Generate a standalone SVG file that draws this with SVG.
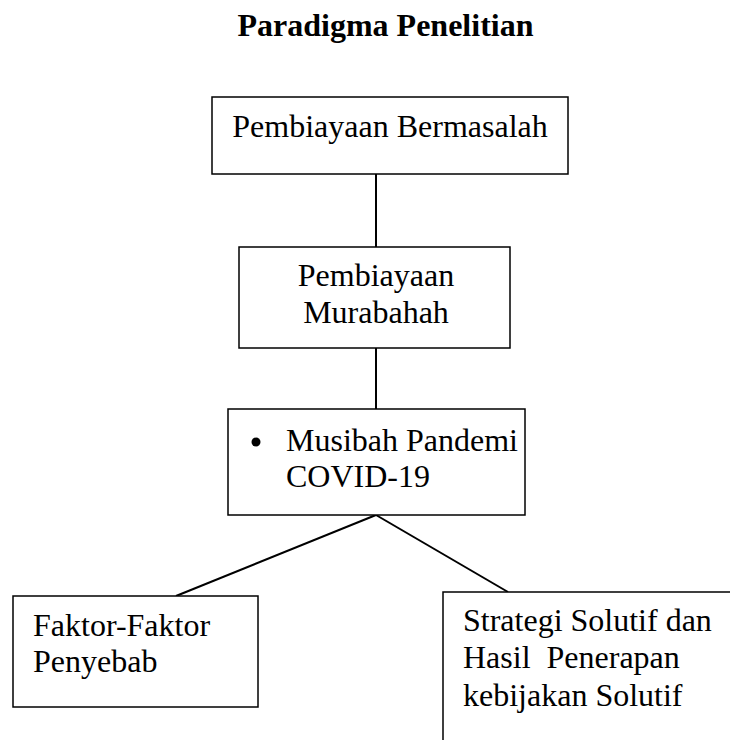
<svg xmlns="http://www.w3.org/2000/svg" width="730" height="740" viewBox="0 0 730 740">
<style>
.box{fill:#fff;stroke:#000;stroke-width:1.5}
.t{font-family:"Liberation Serif","Times New Roman",serif;font-size:32px;fill:#000}
.title{font-family:"Liberation Serif","Times New Roman",serif;font-size:32px;font-weight:bold;fill:#000}
.conn line{stroke:#000;stroke-width:2}
</style>
<rect width="730" height="740" fill="#fff"/>
<text class="title" x="385.5" y="36" text-anchor="middle">Paradigma Penelitian</text>
<g id="connectors" class="conn">
<line x1="376" y1="174" x2="376" y2="247"/>
<line x1="376" y1="348" x2="376" y2="409"/>
<line x1="376" y1="515" x2="176" y2="596"/>
<line x1="376" y1="515" x2="508" y2="592"/>
</g>
<g id="n1"><rect class="box" x="212" y="97" width="356" height="77"/>
<text class="t" x="390" y="137" text-anchor="middle">Pembiayaan Bermasalah</text></g>
<g id="n2"><rect class="box" x="239" y="247" width="271" height="101"/>
<text class="t" x="376" y="286" text-anchor="middle">Pembiayaan</text>
<text class="t" x="376" y="323" text-anchor="middle">Murabahah</text></g>
<g id="n3"><rect class="box" x="228" y="409" width="297" height="106"/>
<circle cx="256" cy="442" r="4.5" fill="#000"/>
<text class="t" x="286" y="451">Musibah Pandemi</text>
<text class="t" x="286" y="487">COVID-19</text></g>
<g id="n4"><rect class="box" x="13" y="596" width="245" height="111"/>
<text class="t" x="33" y="636">Faktor-Faktor</text>
<text class="t" x="33" y="672">Penyebab</text></g>
<g id="n5"><rect class="box" x="443" y="592" width="300" height="160"/>
<text class="t" x="463" y="631">Strategi Solutif dan</text>
<text class="t" x="463" y="668" xml:space="preserve">Hasil  Penerapan</text>
<text class="t" x="463" y="706">kebijakan Solutif</text></g>
</svg>
